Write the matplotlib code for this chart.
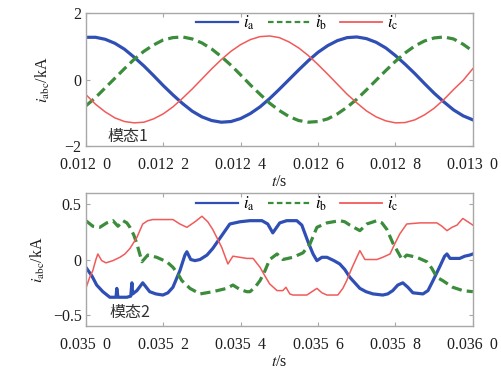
import numpy as np
import matplotlib
matplotlib.use("Agg")
import matplotlib.pyplot as plt
from matplotlib.lines import Line2D

plt.rcParams['font.family'] = ['Liberation Serif', 'DejaVu Serif']
plt.rcParams['mathtext.fontset'] = 'stix'

# ---------------- data: top panel (mode 1) ----------------
t1_start_us = 12000
t1_step_us = 25
ia1 = [1.27, 1.27, 1.21, 1.09, 0.91, 0.67, 0.41, 0.12, -0.18, -0.46, -0.72, -0.95, -1.12, -1.23,
       -1.28, -1.26, -1.17, -1.02, -0.82, -0.57, -0.29, 0.00, 0.29, 0.57, 0.82, 1.02, 1.17, 1.26,
       1.28, 1.23, 1.12, 0.95, 0.72, 0.46, 0.18, -0.12, -0.41, -0.67, -0.91, -1.09, -1.21]
ib1 = [-0.79, -0.54, -0.25, 0.04, 0.33, 0.61, 0.85, 1.04, 1.19, 1.26, 1.28, 1.22, 1.10, 0.92,
       0.69, 0.43, 0.14, -0.16, -0.44, -0.71, -0.93, -1.11, -1.23, -1.28, -1.26, -1.18, -1.03,
       -0.83, -0.59, -0.31, -0.02, 0.27, 0.55, 0.80, 1.01, 1.16, 1.25, 1.28, 1.22, 1.06, 0.85]
ic1 = [-0.45, -0.74, -0.97, -1.15, -1.26, -1.30, -1.28, -1.18, -1.03, -0.82, -0.56, -0.28, 0.02,
       0.32, 0.60, 0.85, 1.05, 1.20, 1.29, 1.31, 1.26, 1.13, 0.95, 0.72, 0.45, 0.16, -0.14, -0.44,
       -0.70, -0.94, -1.12, -1.24, -1.30, -1.29, -1.21, -1.06, -0.86, -0.60, -0.30, -0.02, 0.33]

# ---------------- data: bottom panel (mode 2) ----------------
t2_start_us = 35000
ta2_us = [0, 16, 28, 44, 62, 78, 80, 83, 106, 116, 119, 121, 132, 147, 165, 181, 199, 212, 225,
          243, 256, 261, 271, 282, 295, 313, 328, 346, 372, 398, 424, 455, 470, 483, 501, 519,
          545, 558, 574, 587, 597, 610, 623, 641, 656, 669, 682, 695, 708, 724, 742, 767, 780,
          793, 806, 819, 832, 845, 871, 884, 897, 915, 927, 933, 941, 953, 966, 979, 992, 1000]
ia2 = [-0.07, -0.15, -0.23, -0.29, -0.34, -0.34, -0.26, -0.34, -0.34, -0.33, -0.21, -0.31,
       -0.28, -0.21, -0.29, -0.31, -0.32, -0.30, -0.25, -0.10, 0.04, 0.07, 0.00, -0.01, 0.00,
       0.04, 0.10, 0.19, 0.32, 0.34, 0.35, 0.35, 0.32, 0.24, 0.33, 0.35, 0.35, 0.31, 0.16,
       0.05, -0.01, 0.02, 0.02, -0.01, -0.04, -0.09, -0.16, -0.21, -0.26, -0.29, -0.31, -0.32,
       -0.31, -0.28, -0.23, -0.21, -0.25, -0.30, -0.31, -0.28, -0.19, -0.06, 0.03, 0.05, 0.01,
       0.01, 0.01, 0.03, 0.04, 0.05]
tb2_us = [0, 18, 36, 54, 70, 83, 96, 106, 114, 124, 132, 145, 160, 183, 209, 225, 238, 248, 269,
          295, 328, 364, 380, 398, 416, 424, 437, 450, 463, 475, 494, 509, 535, 561, 579, 597,
          623, 656, 669, 682, 708, 726, 752, 765, 778, 793, 817, 829, 855, 881, 894, 907, 922,
          948, 974, 1000]
ib2 = [0.35, 0.30, 0.29, 0.33, 0.35, 0.30, 0.35, 0.33, 0.29, 0.22, 0.14, -0.02, 0.04, 0.02,
       -0.02, -0.07, -0.13, -0.19, -0.26, -0.31, -0.29, -0.26, -0.23, -0.27, -0.29, -0.29,
       -0.25, -0.19, -0.10, 0.00, 0.05, 0.00, 0.02, 0.06, 0.14, 0.29, 0.33, 0.35, 0.34, 0.31,
       0.26, 0.32, 0.35, 0.33, 0.27, 0.15, 0.00, 0.04, 0.02, -0.02, -0.08, -0.16, -0.19, -0.25,
       -0.28, -0.29]
tc2_us = [0, 10, 18, 26, 31, 41, 52, 70, 88, 101, 114, 132, 147, 160, 173, 204, 225, 243, 261,
          282, 300, 315, 328, 341, 351, 367, 380, 398, 416, 432, 450, 463, 475, 494, 509, 517,
          527, 535, 571, 584, 597, 610, 623, 651, 664, 674, 687, 700, 708, 721, 734, 752, 767,
          786, 798, 811, 829, 863, 907, 920, 933, 946, 959, 974, 987, 1000]
ic2 = [-0.26, -0.16, -0.10, 0.00, 0.05, -0.01, -0.03, -0.01, 0.02, 0.05, 0.10, 0.20, 0.32,
       0.35, 0.36, 0.36, 0.36, 0.32, 0.29, 0.34, 0.39, 0.34, 0.27, 0.18, 0.11, -0.04, 0.03,
       0.02, 0.01, 0.01, -0.07, -0.15, -0.22, -0.28, -0.28, -0.25, -0.31, -0.32, -0.32, -0.29,
       -0.26, -0.30, -0.32, -0.32, -0.26, -0.19, -0.08, 0.02, 0.08, 0.00, 0.00, 0.00, 0.02,
       0.05, 0.14, 0.23, 0.32, 0.33, 0.33, 0.30, 0.26, 0.29, 0.31, 0.37, 0.34, 0.31]

# ticks
x1_ticks = [0.0120, 0.0122, 0.0124, 0.0126, 0.0128, 0.0130]
x1_labels = ["0.012\u2009 0", "0.012\u2009 2", "0.012\u2009 4", "0.012\u2009 6", "0.012\u2009 8", "0.013\u2009 0"]
y1_ticks = [-2, 0, 2]
y1_labels = ["\u22122", "0", "2"]
x2_ticks = [0.0350, 0.0352, 0.0354, 0.0356, 0.0358, 0.0360]
x2_labels = ["0.035\u2009 0", "0.035\u2009 2", "0.035\u2009 4", "0.035\u2009 6", "0.035\u2009 8", "0.036\u2009 0"]
y2_ticks = [-0.5, 0, 0.5]
y2_labels = ["\u22120.5", "0", "0.5"]

series_labels = [r"$i_\mathrm{a}$", r"$i_\mathrm{b}$", r"$i_\mathrm{c}$"]
mode_labels = ["模态1", "模态2"]

# ---------------- plot ----------------
c_blue = '#2f4fb5'
c_green = '#3b8c3b'
c_red = '#f25a5a'
spine_c = '#a8a8a8'
txt_c = '#1e1e1e'
fs = 11.5
dash = (0, (3.2, 1.6))

fig = plt.figure(figsize=(5.02, 3.71), dpi=100)
ax1 = fig.add_axes([0.171, 0.606, 0.771, 0.359])
ax2 = fig.add_axes([0.171, 0.121, 0.771, 0.359])

t1 = (t1_start_us + t1_step_us * np.arange(len(ia1))) * 1e-6
ax1.plot(t1, ia1, color=c_blue, lw=2.3)
ax1.plot(t1, ib1, color=c_green, lw=2.3, ls=dash)
ax1.plot(t1, ic1, color=c_red, lw=1.1)

ax2.plot((t2_start_us + np.array(ta2_us)) * 1e-6, ia2, color=c_blue, lw=2.3)
ax2.plot((t2_start_us + np.array(tb2_us)) * 1e-6, ib2, color=c_green, lw=2.3, ls=dash)
ax2.plot((t2_start_us + np.array(tc2_us)) * 1e-6, ic2, color=c_red, lw=1.1)

handles = [Line2D([], [], color=c_blue, lw=1.6),
           Line2D([], [], color=c_green, lw=1.6, ls=(0, (2.5, 1.5))),
           Line2D([], [], color=c_red, lw=1.3)]

for ax, xt, xl, yt, yl, xlim, ylim, ylpad, lgy in [
        (ax1, x1_ticks, x1_labels, y1_ticks, y1_labels, (0.0120, 0.0130), (-2, 2), 9, 0.925),
        (ax2, x2_ticks, x2_labels, y2_ticks, y2_labels, (0.0350, 0.0360), (-0.6, 0.6), 4, 0.915)]:
    ax.set_xlim(*xlim)
    ax.set_ylim(*ylim)
    ax.set_xticks(xt)
    ax.set_xticklabels(xl)
    ax.set_yticks(yt)
    ax.set_yticklabels(yl)
    ax.tick_params(direction='in', top=True, right=True, length=3, width=0.8,
                   color=spine_c, labelsize=fs, labelcolor=txt_c)
    ax.tick_params(axis='x', pad=7.5)
    ax.tick_params(axis='y', pad=3)
    for s in ax.spines.values():
        s.set_color(spine_c)
        s.set_linewidth(1.0)
    ax.set_xlabel(r"$t$/s", fontsize=fs, labelpad=1, color=txt_c)
    ax.set_ylabel(r"$i_\mathrm{abc}$/kA", fontsize=fs, labelpad=ylpad, color=txt_c)
    ax.legend(handles, series_labels, loc='center left', ncol=3, frameon=False, fontsize=fs + 0.5,
              handlelength=2.5, handletextpad=0.3, columnspacing=0.8, borderpad=0,
              borderaxespad=0, bbox_to_anchor=(0.285, lgy))

ax1.text(0.055, 0.07, mode_labels[0], transform=ax1.transAxes, fontsize=fs,
         family=['Noto Sans CJK SC', 'DejaVu Sans'], color='#333333', va='center')
ax2.text(0.062, 0.10, mode_labels[1], transform=ax2.transAxes, fontsize=fs,
         family=['Noto Sans CJK SC', 'DejaVu Sans'], color='#333333', va='center')

fig.savefig("out.png", dpi=100)
